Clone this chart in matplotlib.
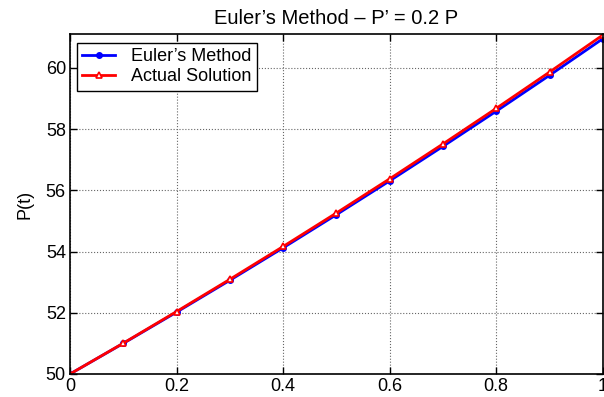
import numpy as np
import matplotlib
matplotlib.use("Agg")
import matplotlib.pyplot as plt

plt.rcParams['font.family'] = ['Liberation Sans', 'DejaVu Sans']

t = [0.0, 0.1, 0.2, 0.3, 0.4, 0.5, 0.6, 0.7, 0.8, 0.9, 1.0]
euler = [50.0, 51.0, 52.02, 53.0604, 54.1216, 55.2040, 56.3081, 57.4343, 58.5830, 59.7546, 60.9497]
actual = [50.0, 51.0067, 52.0405, 53.0918, 54.1644, 55.2585, 56.3749, 57.5137, 58.6755, 59.8609, 61.0701]
xticks = [0, 0.2, 0.4, 0.6, 0.8, 1]
xticklabels = ['0', '0.2', '0.4', '0.6', '0.8', '1']
yticks = [50, 52, 54, 56, 58, 60]

fig = plt.figure(figsize=(6.04, 3.97), dpi=100)
ax = fig.add_axes([0.116, 0.058, 0.882, 0.856])

ax.plot(t, euler, color='blue', lw=2, marker='o', ms=4, label="Euler\u2019s Method")
ax.plot(t, actual, color='red', lw=2, marker='^', ms=5, mfc='white', mew=1.2,
        label='Actual Solution')

ax.set_xlim(0, 1)
ax.set_ylim(50, 61.1)
ax.set_xticks(xticks)
ax.set_xticklabels(xticklabels)
ax.set_yticks(yticks)
ax.tick_params(direction='in', length=5, labelsize=13, width=1, top=True, right=True, pad=3)
ax.grid(True, linestyle=':', color='0.4', lw=0.8)
for s in ax.spines.values():
    s.set_linewidth(1.2)

ax.set_ylabel('P(t)', fontsize=13, labelpad=9)
ax.set_title("Euler\u2019s Method \u2013 P\u2019 = 0.2 P", fontsize=14.5, pad=7)
# legend box placed where the reference has it
leg = ax.legend(loc='upper left', bbox_to_anchor=(0.013, 0.974), fontsize=13,
                fancybox=False, framealpha=1, edgecolor='black', borderaxespad=0,
                handlelength=1.8, borderpad=0.3, labelspacing=0.15, handletextpad=0.9)
leg.get_frame().set_linewidth(1)

fig.savefig('out.png', dpi=100)
